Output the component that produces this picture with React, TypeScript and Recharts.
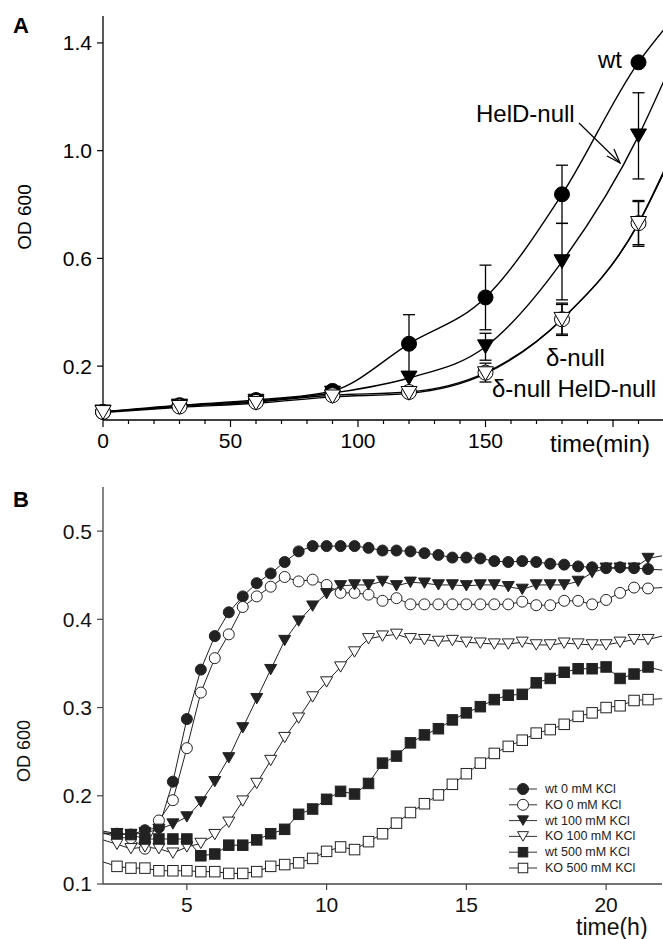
import React from 'react';
import { LineChart, Line, XAxis, YAxis, ErrorBar, Legend } from 'recharts';

const FONT = '"Liberation Sans", Arial, Helvetica, sans-serif';

// ---- Panel A: growth curves, time in minutes ----
// the last point (220) only carries the curve to the frame edge, no marker
const TIME_A = [0, 30, 60, 90, 120, 150, 180, 210, 220];
const MARK_A = [1, 1, 1, 1, 1, 1, 1, 1, 0];
const WT_A = [0.03, 0.055, 0.074, 0.108, 0.283, 0.455, 0.838, 1.328, 1.45];
const WT_A_ERR = [null, null, null, null, 0.108, 0.12, 0.108, null, null];
const HELD_A = [0.03, 0.052, 0.07, 0.1, 0.156, 0.272, 0.588, 1.055, 1.26];
const HELD_A_ERR = [null, null, null, null, null, 0.05, 0.142, 0.16, null];
const DELTA_A = [0.03, 0.05, 0.067, 0.092, 0.104, 0.176, 0.374, 0.731, 0.925];
const DELTA_A_ERR = [null, null, null, null, null, 0.035, 0.06, 0.08, null];
const DH_A = [0.028, 0.047, 0.062, 0.086, 0.099, 0.172, 0.374, 0.73, 0.92];
const DH_A_ERR = [null, null, null, null, null, null, 0.055, 0.085, null];

const Y_TICKS_A = [0.2, 0.6, 1.0, 1.4];
const X_TICKS_A = [0, 10, 20, 30, 40, 50, 60, 70, 80, 90, 100, 110, 120, 130, 140, 150, 160, 170, 180, 190, 200, 210, 220];
const X_MAJOR_A = [0, 50, 100, 150, 200];
const X_LABELS_A = ['0', '50', '100', '150', ''];

// ---- Panel B: growth with KCl, time in hours ----
// first (2.0) and last (22.0) points sit on the frame edges, no marker
const TIME_B = [2, 2.5, 3, 3.5, 4, 4.5, 5, 5.5, 6, 6.5, 7, 7.5, 8, 8.5, 9, 9.5, 10, 10.5, 11, 11.5, 12, 12.5, 13, 13.5, 14, 14.5, 15, 15.5, 16, 16.5, 17, 17.5, 18, 18.5, 19, 19.5, 20, 20.5, 21, 21.5, 22];
const WT0_B = [0.16, 0.157, 0.156, 0.161, 0.164, 0.216, 0.287, 0.343, 0.381, 0.408, 0.426, 0.441, 0.452, 0.465, 0.477, 0.483, 0.483, 0.483, 0.483, 0.481, 0.478, 0.478, 0.477, 0.475, 0.473, 0.47, 0.47, 0.469, 0.466, 0.465, 0.466, 0.465, 0.463, 0.462, 0.46, 0.459, 0.458, 0.459, 0.458, 0.457, 0.456];
const KO0_B = [0.158, 0.153, 0.152, 0.14, 0.172, 0.195, 0.254, 0.317, 0.356, 0.383, 0.414, 0.426, 0.437, 0.448, 0.443, 0.445, 0.439, 0.43, 0.43, 0.428, 0.421, 0.424, 0.417, 0.417, 0.417, 0.417, 0.417, 0.417, 0.417, 0.417, 0.42, 0.416, 0.416, 0.421, 0.421, 0.417, 0.422, 0.43, 0.436, 0.435, 0.436];
const WT100_B = [0.157, 0.157, 0.156, 0.158, 0.162, 0.168, 0.176, 0.193, 0.216, 0.243, 0.277, 0.31, 0.343, 0.376, 0.398, 0.415, 0.429, 0.438, 0.439, 0.439, 0.443, 0.438, 0.442, 0.441, 0.439, 0.439, 0.438, 0.439, 0.439, 0.437, 0.434, 0.439, 0.439, 0.439, 0.443, 0.453, 0.458, 0.458, 0.458, 0.469, 0.472];
const KO100_B = [0.15, 0.145, 0.14, 0.142, 0.14, 0.135, 0.142, 0.146, 0.156, 0.17, 0.194, 0.214, 0.24, 0.266, 0.288, 0.312, 0.329, 0.346, 0.363, 0.378, 0.381, 0.383, 0.378, 0.377, 0.375, 0.376, 0.374, 0.373, 0.372, 0.372, 0.374, 0.371, 0.371, 0.373, 0.372, 0.371, 0.371, 0.374, 0.377, 0.377, 0.381];
const WT500_B = [0.158, 0.157, 0.156, 0.151, 0.151, 0.151, 0.151, 0.132, 0.134, 0.144, 0.144, 0.15, 0.157, 0.162, 0.179, 0.185, 0.196, 0.205, 0.202, 0.214, 0.237, 0.245, 0.26, 0.269, 0.276, 0.286, 0.294, 0.301, 0.309, 0.314, 0.315, 0.328, 0.333, 0.34, 0.344, 0.344, 0.346, 0.333, 0.338, 0.346, 0.342];
const KO500_B = [0.125, 0.12, 0.118, 0.118, 0.115, 0.115, 0.115, 0.114, 0.114, 0.112, 0.112, 0.114, 0.12, 0.122, 0.124, 0.129, 0.137, 0.142, 0.139, 0.148, 0.157, 0.169, 0.181, 0.191, 0.201, 0.213, 0.225, 0.237, 0.248, 0.256, 0.263, 0.271, 0.275, 0.281, 0.29, 0.294, 0.3, 0.302, 0.308, 0.309, 0.31];

const Y_TICKS_B = [0.1, 0.2, 0.3, 0.4, 0.5];
const X_TICKS_B = [5, 10, 15, 20];

type Shape = 'circle' | 'triangle' | 'square';

const SERIES_B: { key: string; name: string; shape: Shape; filled: boolean; values: number[] }[] = [
  { key: 'wt0', name: 'wt 0 mM KCl', shape: 'circle', filled: true, values: WT0_B },
  { key: 'ko0', name: 'KO 0 mM KCl', shape: 'circle', filled: false, values: KO0_B },
  { key: 'wt100', name: 'wt 100 mM KCl', shape: 'triangle', filled: true, values: WT100_B },
  { key: 'ko100', name: 'KO 100 mM KCl', shape: 'triangle', filled: false, values: KO100_B },
  { key: 'wt500', name: 'wt 500 mM KCl', shape: 'square', filled: true, values: WT500_B },
  { key: 'ko500', name: 'KO 500 mM KCl', shape: 'square', filled: false, values: KO500_B },
];

const dataA = TIME_A.map((t, i) => ({
  t,
  mark: MARK_A[i],
  wt: WT_A[i],
  wtErr: WT_A_ERR[i],
  held: HELD_A[i],
  heldErr: HELD_A_ERR[i],
  delta: DELTA_A[i],
  deltaErr: DELTA_A_ERR[i],
  dh: DH_A[i],
  dhErr: DH_A_ERR[i],
}));

const dataB = TIME_B.map((t, i) => {
  const row: any = { t, mark: i > 0 && i < TIME_B.length - 1 ? 1 : 0 };
  SERIES_B.forEach((s) => {
    row[s.key] = s.values[i];
  });
  return row;
});

function drawMarker(shape: Shape, filled: boolean, size: number, cx: number, cy: number, key?: React.Key, stroke = '#000') {
  const fill = filled ? stroke : '#fff';
  const r = size / 2;
  if (shape === 'circle') {
    return <circle key={key} cx={cx} cy={cy} r={r} fill={fill} stroke={stroke} strokeWidth={1} />;
  }
  if (shape === 'square') {
    return <rect key={key} x={cx - r} y={cy - r} width={size} height={size} fill={fill} stroke={stroke} strokeWidth={1} />;
  }
  const h = size * 0.86;
  const pts = `${cx - r},${cy - h / 2} ${cx + r},${cy - h / 2} ${cx},${cy + h / 2}`;
  return <polygon key={key} points={pts} fill={fill} stroke={stroke} strokeWidth={1} strokeLinejoin="miter" />;
}

const dotFor = (shape: Shape, filled: boolean, size: number, stroke = '#000') => (p: any) => {
  if (!p.payload || !p.payload.mark || p.cx == null || p.cy == null) return <g key={p.index} />;
  return drawMarker(shape, filled, size, p.cx, p.cy, p.index, stroke);
};

const XTickA = (props: any) => {
  const { x, y, payload } = props;
  const mi = X_MAJOR_A.indexOf(payload.value);
  const major = mi >= 0;
  return (
    <g>
      <line x1={x} x2={x} y1={y} y2={y + (major ? 7 : 4)} stroke="#000" strokeWidth={1.2} />
      {major && X_LABELS_A[mi] !== '' && (
        <text x={x} y={y + 13} dy="0.71em" textAnchor="middle" fontSize={21} fill="#000">
          {X_LABELS_A[mi]}
        </text>
      )}
    </g>
  );
};

const LegendB = () => (
  <svg width={150} height={100} style={{ display: 'block' }}>
    {SERIES_B.map((s, i) => (
      <g key={s.key} transform={`translate(0, ${8 + i * 15.8})`}>
        <line x1={0} x2={28} y1={0} y2={0} stroke="#333" strokeWidth={1} />
        {drawMarker(s.shape, s.filled, s.shape === 'square' ? 9.5 : 11, 14, 0, undefined, '#222')}
        <text x={36} y={0} dominantBaseline="central" fontSize={12.5} fill="#222" fontFamily={FONT}>
          {s.name}
        </text>
      </g>
    ))}
  </svg>
);

export default function App() {
  return (
    <div
      style={{
        position: 'absolute',
        left: 0,
        top: 0,
        width: 663,
        height: 939,
        overflow: 'hidden',
        background: '#fff',
        fontFamily: FONT,
      }}
    >
      <div style={{ position: 'absolute', left: 0, top: 0 }}>
        <LineChart width={680} height={470} data={dataA} margin={{ top: 16, right: 16, bottom: 0, left: 0 }}>
          <XAxis xAxisId="top" orientation="top" dataKey="t" type="number" domain={[0, 220]} tick={false} tickLine={false} height={0} axisLine={{ stroke: '#000', strokeWidth: 1.3 }} />
          <XAxis
            dataKey="t"
            type="number"
            domain={[0, 220]}
            ticks={X_TICKS_A}
            interval={0}
            height={50}
            tickSize={0}
            tickMargin={0}
            tickLine={false}
            tick={<XTickA />}
            axisLine={{ stroke: '#000', strokeWidth: 1.3 }}
          />
          <YAxis
            type="number"
            domain={[0, 1.5]}
            ticks={Y_TICKS_A}
            interval={0}
            width={103}
            tickSize={6}
            tickMargin={5}
            tickFormatter={(v: number) => v.toFixed(1)}
            tick={{ fontSize: 21, fill: '#000' }}
            tickLine={{ stroke: '#000', strokeWidth: 1.2 }}
            axisLine={{ stroke: '#000', strokeWidth: 1.3 }}
          />
          <Line dataKey="wt" type="monotone" stroke="#000" strokeWidth={1.4} isAnimationActive={false} activeDot={false} dot={dotFor('circle', true, 15)}>
            <ErrorBar dataKey="wtErr" direction="y" width={6} stroke="#000" strokeWidth={1.3} />
          </Line>
          <Line dataKey="held" type="monotone" stroke="#000" strokeWidth={1.4} isAnimationActive={false} activeDot={false} dot={dotFor('triangle', true, 16)}>
            <ErrorBar dataKey="heldErr" direction="y" width={6} stroke="#000" strokeWidth={1.3} />
          </Line>
          <Line dataKey="delta" type="monotone" stroke="#000" strokeWidth={1.4} isAnimationActive={false} activeDot={false} dot={dotFor('circle', false, 15)}>
            <ErrorBar dataKey="deltaErr" direction="y" width={6} stroke="#000" strokeWidth={1.3} />
          </Line>
          <Line dataKey="dh" type="monotone" stroke="#000" strokeWidth={1.4} isAnimationActive={false} activeDot={false} dot={dotFor('triangle', false, 16)}>
            <ErrorBar dataKey="dhErr" direction="y" width={6} stroke="#000" strokeWidth={1.3} />
          </Line>
        </LineChart>
      </div>

      <div style={{ position: 'absolute', left: 0, top: 460 }}>
        <LineChart width={680} height={479} data={dataB} margin={{ top: 27, right: 18, bottom: 0, left: 0 }}>
          <XAxis xAxisId="top" orientation="top" dataKey="t" type="number" domain={[2, 22]} tick={false} tickLine={false} height={0} axisLine={{ stroke: '#444', strokeWidth: 1.3 }} />
          <YAxis yAxisId="right" orientation="right" type="number" domain={[0.1, 0.55]} tick={false} tickLine={false} width={0} axisLine={{ stroke: '#444', strokeWidth: 1.3 }} />
          <XAxis
            dataKey="t"
            type="number"
            domain={[2, 22]}
            ticks={X_TICKS_B}
            interval={0}
            height={55}
            tickSize={6}
            tickMargin={7}
            tick={{ fontSize: 21, fill: '#111' }}
            tickLine={{ stroke: '#444', strokeWidth: 1.2 }}
            axisLine={{ stroke: '#444', strokeWidth: 1.3 }}
          />
          <YAxis
            type="number"
            domain={[0.1, 0.55]}
            ticks={Y_TICKS_B}
            interval={0}
            width={103}
            tickSize={6}
            tickMargin={5}
            tickFormatter={(v: number) => v.toFixed(1)}
            tick={{ fontSize: 21, fill: '#111' }}
            tickLine={{ stroke: '#444', strokeWidth: 1.2 }}
            axisLine={{ stroke: '#444', strokeWidth: 1.3 }}
          />
          {SERIES_B.map((s) => (
            <Line
              key={s.key}
              dataKey={s.key}
              name={s.name}
              type="linear"
              stroke="#222"
              strokeWidth={1}
              isAnimationActive={false}
              activeDot={false}
              dot={dotFor(s.shape, s.filled, s.shape === 'square' ? 10.5 : s.shape === 'circle' ? 11 : 12, '#222')}
            />
          ))}
          <Legend
            layout="vertical"
            align="center"
            verticalAlign="middle"
            content={<LegendB />}
            wrapperStyle={{ position: 'absolute', left: 509, top: 321, width: 150, height: 100 }}
          />
        </LineChart>
      </div>

      <svg width={663} height={939} style={{ position: 'absolute', left: 0, top: 0, pointerEvents: 'none' }} fontFamily={FONT}>
        <text x={13} y={33} fontSize={22} fontWeight="bold" fill="#000">A</text>
        <text x={13} y={507} fontSize={22} fontWeight="bold" fill="#000">B</text>
        <text transform="translate(24,217) rotate(-90)" textAnchor="middle" dominantBaseline="central" fontSize={19} fill="#000">OD 600</text>
        <text transform="translate(24,751) rotate(-90)" textAnchor="middle" dominantBaseline="central" fontSize={18} fill="#111">OD 600</text>

        <text x={598} y={68} fontSize={24} fill="#000">wt</text>
        <text x={476} y={122} fontSize={24} fill="#000">HelD-null</text>
        <line x1={579} y1={123} x2={620} y2={163} stroke="#000" strokeWidth={1.2} />
        <polyline points="607,156 620,163 614,149" fill="none" stroke="#000" strokeWidth={1.2} />
        <text x={546} y={366} fontSize={24} fill="#000">δ-null</text>
        <text x={492} y={397} fontSize={24} fill="#000">δ-null HelD-null</text>
        <text x={550} y={452} fontSize={24} fill="#000">time(min)</text>
        <text x={576} y={935} fontSize={23} fill="#111">time(h)</text>
      </svg>
    </div>
  );
}
